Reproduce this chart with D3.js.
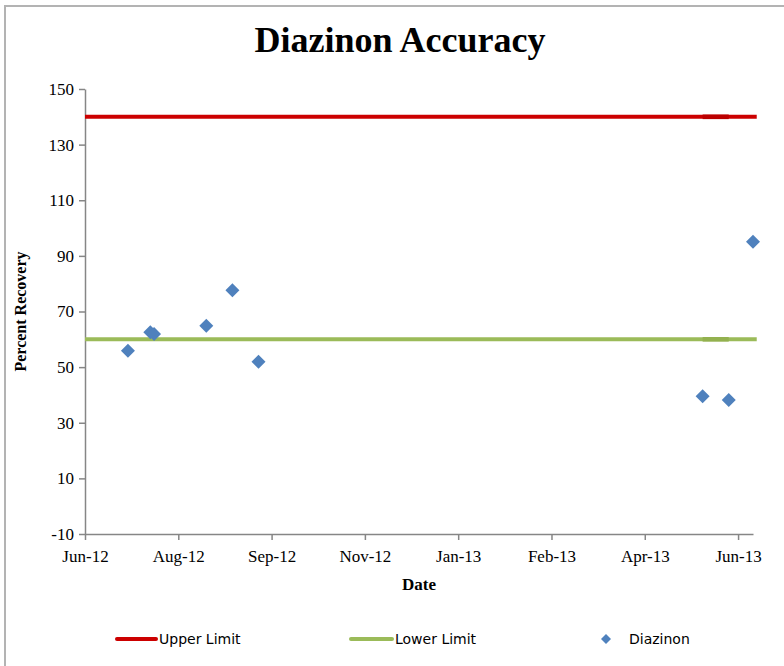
<!DOCTYPE html>
<html>
<head>
<meta charset="utf-8">
<script src="https://cdn.jsdelivr.net/npm/d3@7"></script>
<style>
    body { margin: 0; background: #fff; }
    svg { display: block; }
</style>
</head>
<body>
<div id="chart"></div>
<script>
// sample dates and percent recovery
let sample_dates = ['2012-07-13', '2012-07-25', '2012-07-27', '2012-08-24', '2012-09-07', '2012-09-21',
    '2013-05-17', '2013-05-31', '2013-06-13'];
let diazinon_values = [55.9, 62.5, 61.9, 64.9, 77.6, 51.9, 39.5, 38.2, 95.1];

// control limits
let upper_limit = 140;
let lower_limit = 60;
let limit_dates = ['2012-06-20', '2013-06-15'];
let overlap_dates = ['2013-05-17', '2013-05-31'];

// axis settings
let x_axis_range = ['2012-06-20', '2013-06-13'];
let x_tick_step_days = 50;
let y_axis_range = [-10, 150];
let y_tick_step = 20;

let legend_labels = ['Upper Limit', 'Lower Limit', 'Diazinon'];

let color_upper = '#cc0000', color_upper_dark = '#bb0000';
let color_lower = '#9bbb59', color_lower_dark = '#93b14f';
let color_points = '#4f81bd';
let color_axis = '#868686';
let serif = '"Palatino Linotype", "Book Antiqua", Palatino, "Liberation Serif", serif';
let sans = '"DejaVu Sans", Verdana, sans-serif';

let parse_date = d3.timeParse('%Y-%m-%d');

let width = 784, height = 666;
let plot = {left: 85, right: 753, top: 89, bottom: 534};

let svg = d3.select('#chart').append('svg')
    .attr('width', width)
    .attr('height', height);

svg.append('rect').attr('width', width).attr('height', height).attr('fill', '#fff');

// chart frame
svg.append('rect')
    .attr('x', 5).attr('y', 6)
    .attr('width', width + 10).attr('height', height + 10)
    .attr('fill', 'none')
    .attr('stroke', '#b3b3b3')
    .attr('stroke-width', 2);

let x = d3.scaleTime()
    .domain(x_axis_range.map(parse_date))
    .range([plot.left, plot.right]);

let y = d3.scaleLinear()
    .domain(y_axis_range)
    .range([plot.bottom, plot.top]);

let x_ticks = d3.timeDay.range(x.domain()[0], d3.timeDay.offset(x.domain()[1], 1), x_tick_step_days);
let y_ticks = d3.range(y_axis_range[0], y_axis_range[1] + 1, y_tick_step);

// title
svg.append('text')
    .attr('x', 400).attr('y', 52)
    .attr('text-anchor', 'middle')
    .style('font-family', serif)
    .style('font-weight', 'bold')
    .style('font-size', '36px')
    .text('Diazinon Accuracy');

// y axis (plain hyphen for negatives, like the original)
let y_axis = svg.append('g')
    .attr('transform', 'translate(' + plot.left + ',0)')
    .call(d3.axisLeft(y).tickValues(y_ticks).tickFormat(d => String(d)).tickSize(6).tickPadding(5).tickSizeOuter(0));

// x axis
let x_axis = svg.append('g')
    .attr('transform', 'translate(0,' + plot.bottom + ')')
    .call(d3.axisBottom(x).tickValues(x_ticks).tickFormat(d3.timeFormat('%b-%y')).tickSize(6).tickPadding(10).tickSizeOuter(0));

[x_axis, y_axis].forEach(function (ax) {
    ax.selectAll('path, line').attr('stroke', color_axis).attr('stroke-width', 1.5);
    ax.selectAll('text')
        .style('font-family', serif)
        .style('font-size', '17px')
        .attr('fill', '#000');
});

// axis titles
svg.append('text')
    .attr('x', (plot.left + plot.right) / 2).attr('y', 590)
    .attr('text-anchor', 'middle')
    .style('font-family', serif)
    .style('font-weight', 'bold')
    .style('font-size', '17px')
    .text('Date');

svg.append('text')
    .attr('transform', 'translate(26,' + (plot.top + plot.bottom) / 2 + ') rotate(-90)')
    .attr('text-anchor', 'middle')
    .style('font-family', serif)
    .style('font-weight', 'bold')
    .style('font-size', '16px')
    .text('Percent Recovery');

// limit lines
let limit_line = function (value) {
    return d3.line()
        .x(d => x(parse_date(d)))
        .y(() => y(value));
};

[[upper_limit, color_upper, color_upper_dark], [lower_limit, color_lower, color_lower_dark]].forEach(function (lim) {
    svg.append('path')
        .attr('d', limit_line(lim[0])(limit_dates))
        .attr('fill', 'none')
        .attr('stroke', lim[1])
        .attr('stroke-width', 4);
    svg.append('path')
        .attr('d', limit_line(lim[0])(overlap_dates))
        .attr('fill', 'none')
        .attr('stroke', lim[2])
        .attr('stroke-width', 4.6);
});

// data points
let diamond = d3.symbol().type(d3.symbolSquare).size(98);

svg.append('g').selectAll('path')
    .data(sample_dates.map((d, i) => ({date: parse_date(d), value: diazinon_values[i]})))
    .join('path')
    .attr('d', diamond)
    .attr('transform', d => 'translate(' + x(d.date) + ',' + y(d.value) + ') rotate(45)')
    .attr('fill', color_points);

// legend
let legend = svg.append('g');
let legend_y = 639;

legend.append('line')
    .attr('x1', 117).attr('x2', 156)
    .attr('y1', legend_y).attr('y2', legend_y)
    .attr('stroke', color_upper).attr('stroke-width', 4).attr('stroke-linecap', 'round');
legend.append('line')
    .attr('x1', 351).attr('x2', 392)
    .attr('y1', legend_y).attr('y2', legend_y)
    .attr('stroke', color_lower).attr('stroke-width', 4).attr('stroke-linecap', 'round');
legend.append('path')
    .attr('d', d3.symbol().type(d3.symbolSquare).size(50))
    .attr('transform', 'translate(606,' + legend_y + ') rotate(45)')
    .attr('fill', color_points);

[[159, legend_labels[0]], [395, legend_labels[1]], [629, legend_labels[2]]].forEach(function (item) {
    legend.append('text')
        .attr('x', item[0]).attr('y', legend_y + 5)
        .style('font-family', sans)
        .style('font-size', '14px')
        .attr('fill', '#000')
        .text(item[1]);
});
</script>
</body>
</html>
